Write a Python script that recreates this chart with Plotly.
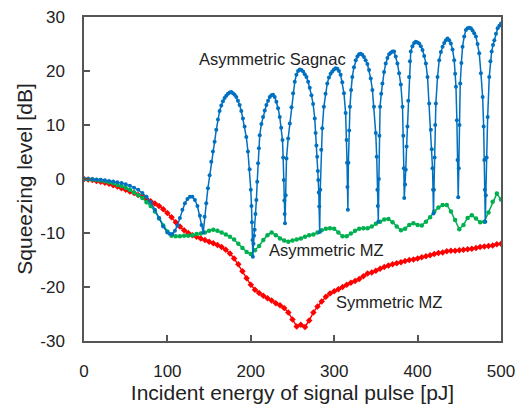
import plotly.graph_objects as go

# ---------------- data ----------------
energy_5 = list(range(0, 505, 5))  # pJ, sampling of the MZ curves

symmetric_mz = [
    0, -0.1, -0.2, -0.35, -0.5, -0.7, -0.9, -1.15, -1.4, -1.7,
    -2.0, -2.3, -2.6, -2.95, -3.3, -3.7, -4.1, -4.55, -5.0, -5.6,
    -6.3, -7.1, -8.0, -8.8, -9.5, -10.0, -10.4, -10.7, -11.0, -11.3,
    -11.6, -11.9, -12.2, -12.6, -13.1, -13.8, -14.7, -15.8, -17.1, -18.4,
    -19.6, -20.5, -21.1, -21.6, -22.1, -22.5, -23.0, -23.4, -23.9, -24.7,
    -26.0, -27.3, -27.0, -27.4, -26.2, -24.7, -23.6, -22.7, -21.8, -21.2,
    -20.8, -20.4, -20.0, -19.6, -19.2, -18.9, -18.5, -18.0, -17.5, -17.3,
    -17.0, -16.6, -16.3, -16.0, -15.8, -15.6, -15.4, -15.2, -15.0, -14.9,
    -14.7, -14.5, -14.3, -14.1, -13.9, -13.7, -13.6, -13.4, -13.3, -13.3,
    -13.2, -13.1, -13.0, -12.9, -12.8, -12.6, -12.5, -12.4, -12.3, -12.1,
    -12.0,
]

asymmetric_mz = [
    0, -0.05, -0.1, -0.2, -0.3, -0.4, -0.6, -0.8, -1.1, -1.3,
    -1.6, -2.0, -2.5, -3.0, -3.5, -4.3, -5.0, -6.0, -7.3, -8.6,
    -9.7, -10.5, -10.6, -10.6, -10.5, -10.5, -10.4, -10.2, -10.1, -9.9,
    -9.6, -9.4, -9.6, -9.9, -10.3, -10.7, -11.2, -12.0, -12.8, -13.5,
    -13.9, -13.2, -12.4, -11.3, -10.4, -9.9, -10.4, -11.0, -11.4, -11.6,
    -11.4, -11.2, -11.0, -10.7, -10.4, -10.3, -9.9, -9.5, -9.2, -9.1,
    -9.2, -9.9, -10.6, -10.6, -10.1, -9.6, -9.2, -9.1, -9.1, -8.8,
    -8.3, -7.9, -7.5, -7.4, -8.0, -8.8, -9.5, -9.2, -8.5, -8.2,
    -8.5, -8.6, -7.9, -7.1, -6.0, -5.3, -4.8, -4.8, -6.0, -7.6,
    -9.3, -8.5, -7.2, -6.7, -7.3, -8.0, -7.9, -6.2, -4.2, -2.7,
    -3.8,
]

sagnac_energy = [
    0, 5, 10, 15, 20, 25, 30, 35, 40, 45, 50, 55, 60, 65, 70, 75, 80, 85, 90, 95, 100,
    103, 106, 109, 112, 115, 118, 121, 124, 127, 130, 133, 136, 139, 141, 143,
    144.6, 146.6, 148.6, 150.6, 152.6, 154.6, 156.6, 158.6, 160.6, 162.6, 164.6, 166.6,
    168.6, 170.6, 172.6, 174.6, 176.6, 178.6, 180.6, 182.6, 184.6, 186.6, 188.6, 190.6,
    192.6, 194.6, 196.6, 198.6,
    200.0, 200.8, 201.4, 202.0, 202.5, 203.2, 203.9, 204.6, 205.6, 206.7, 207.7, 208.7,
    209.7, 210.7, 212.7, 214.7, 216.7, 218.7, 220.7, 222.7, 224.7, 226.7, 228.7, 230.7,
    232.7, 234.7, 236.4, 238.0, 238.8, 239.6, 240.2, 240.6, 241.0,
    241.8, 242.8, 244.8, 246.8, 248.8, 250.7, 252.7, 254.7, 256.7, 258.7, 260.7, 262.7,
    264.7, 266.7, 268.7, 270.7, 272.7, 274.7, 276.7, 277.7, 278.7, 279.6, 280.4, 280.9,
    281.5, 282.1, 282.6,
    283.3, 284.5, 285.7, 287.6, 289.6, 291.7, 293.7, 295.7, 297.7, 299.7, 301.7, 303.7,
    305.7, 307.7, 309.7, 311.7, 313.7, 314.9, 315.4, 315.9, 316.4,
    317.0, 318.0, 318.9, 320.3, 321.7, 323.7, 325.8, 327.8, 329.8, 331.7, 333.7, 335.7,
    337.7, 339.8, 341.8, 343.8, 345.8, 347.7, 349.8, 351.0, 351.8, 352.3, 352.9,
    353.6, 354.2, 355.0, 356.4, 357.8, 359.8, 361.8, 363.8, 365.8, 367.8, 369.8, 371.8,
    373.8, 375.8, 377.8, 379.9, 381.9, 382.9, 383.5, 384.0,
    385.0, 385.8, 386.8, 387.8, 388.8, 389.8, 390.8, 391.8, 393.8, 395.8, 397.8, 399.9,
    401.9, 403.9, 405.9, 407.9, 409.9, 411.9, 413.9, 415.9, 417.0, 417.9, 418.5, 419.0,
    419.6, 420.4, 421.1, 421.9, 423.9, 425.9, 427.9, 429.9, 431.9, 433.9, 435.9, 437.9,
    439.9, 441.9, 443.9, 445.0, 446.0, 447.1, 447.9, 448.7,
    449.4, 450.2, 451.1, 452.5, 453.9, 455.9, 457.9, 459.9, 461.9, 463.9, 465.9, 467.9,
    469.9, 471.9, 473.9, 475.9, 478.0, 479.2, 480.0, 480.6, 481.2,
    481.8, 482.8, 484.0, 485.9, 487.3, 488.8, 490.4, 492.0, 494.0, 496.0, 498.0, 500.0,
]

asymmetric_sagnac = [
    0, 0, -0.05, -0.1, -0.15, -0.25, -0.35, -0.45, -0.6, -0.75, -0.95, -1.25, -1.6, -2.0,
    -2.6, -3.3, -4.3, -5.7, -7.2, -8.8, -9.9,
    -10.2, -10.2, -9.6, -8.6, -7.2, -5.7, -4.5, -3.7, -3.3, -3.3, -3.9, -5.0, -6.8, -8.5, -9.9,
    -7.0, -4.5, -1.7, 0.7, 3.2, 5.1, 6.9, 9.1, 11.0, 12.6, 13.6, 14.4,
    15.0, 15.4, 15.8, 16.0, 16.1, 15.9, 15.6, 15.2, 14.5, 13.7, 12.6, 11.2,
    9.7, 7.8, 5.1, 1.8,
    -2.0, -5.0, -8.0, -11.3, -14.4, -12.0, -10.5, -9.4, -6.5, -3.9, -0.5, 2.9,
    5.7, 8.1, 10.2, 11.5, 12.7, 13.7, 14.5, 15.2, 15.5, 15.6, 15.2, 14.3,
    13.1, 11.5, 9.5, 7.2, 4.0, -0.2, -4.0, -6.5, -8.2,
    -3.0, 3.8, 7.5, 10.3, 13.3, 15.9, 18.0, 19.3, 20.0, 20.3, 20.2, 19.9,
    19.4, 18.9, 18.0, 16.9, 15.5, 13.9, 11.2, 8.5, 6.2, 4.1, 1.5, -0.2,
    -2.5, -5.1, -9.8,
    -2.0, 5.4, 9.4, 13.4, 15.8, 17.7, 18.8, 19.5, 19.9, 20.3, 20.5, 20.4,
    20.0, 19.3, 17.9, 15.9, 12.2, 7.2, 3.0, -1.5, -5.7,
    3.0, 9.0, 13.4, 16.5, 18.9, 20.7, 22.0, 22.7, 23.1, 23.2, 23.0, 22.6,
    22.0, 21.3, 20.2, 18.6, 16.5, 13.4, 8.5, 4.1, -2.0, -5.0, -7.9,
    0.0, 8.0, 13.4, 15.8, 17.7, 19.8, 21.4, 22.4, 23.1, 23.4, 23.6, 23.6,
    22.7, 21.4, 19.6, 17.5, 13.4, 8.0, 2.0, -3.5,
    -1.0, 1.7, 6.0, 9.7, 14.5, 18.9, 21.8, 23.6, 24.6, 25.2, 25.4, 25.3,
    25.1, 24.6, 23.9, 22.8, 21.4, 18.9, 14.0, 9.1, 5.5, 2.0, -2.0, -6.4,
    -2.0, 4.0, 10.0, 14.0, 18.9, 22.0, 23.5, 24.5, 25.2, 25.7, 26.0, 25.7,
    25.1, 24.0, 22.0, 19.5, 17.1, 10.9, 3.5, -3.4,
    2.0, 10.0, 17.7, 21.5, 24.5, 26.4, 27.6, 27.9, 28.0, 27.9, 27.5, 27.0,
    26.4, 25.0, 23.3, 19.6, 15.2, 9.7, 3.5, -2.0, -7.9,
    -3.0, 4.0, 11.5, 18.9, 21.8, 23.6, 24.8, 25.7, 26.9, 27.9, 28.4, 28.8,
]

x_ticks = [0, 100, 200, 300, 400, 500]
x_ticklabels = ["0", "100", "200", "300", "400", "500"]
y_ticks = [-30, -20, -10, 0, 10, 20, 30]
y_ticklabels = ["-30", "-20", "-10", "0", "10", "20", "30"]

labels = ["Asymmetric Sagnac", "Asymmetric MZ", "Symmetric MZ"]
label_x = [226, 291, 366]
label_y = [22.3, -13.1, -22.8]

assert len(sagnac_energy) == len(asymmetric_sagnac)
assert len(energy_5) == len(symmetric_mz) == len(asymmetric_mz)

# ---------------- figure ----------------
FONT = "Liberation Sans, Arial, sans-serif"
BLUE, GREEN, RED = "#0070C0", "#00B050", "#FF0000"

fig = go.Figure()
fig.add_trace(go.Scatter(
    x=energy_5, y=symmetric_mz, mode="lines+markers", name="Symmetric MZ",
    line=dict(color=RED, width=1.5), marker=dict(color=RED, size=5, symbol="diamond"),
))
fig.add_trace(go.Scatter(
    x=energy_5, y=asymmetric_mz, mode="lines+markers", name="Asymmetric MZ",
    line=dict(color=GREEN, width=1.5), marker=dict(color=GREEN, size=4.5),
))
fig.add_trace(go.Scatter(
    x=sagnac_energy, y=asymmetric_sagnac, mode="lines+markers", name="Asymmetric Sagnac",
    line=dict(color=BLUE, width=1.5), marker=dict(color=BLUE, size=4),
))

for t, xv, yv in zip(labels, label_x, label_y):
    fig.add_annotation(x=xv, y=yv, text=t, showarrow=False,
                       font=dict(family=FONT, size=16.5, color="#222222"),
                       xanchor="center", yanchor="middle")

axis_common = dict(
    showgrid=False, zeroline=False, showline=True, linecolor="#555555", linewidth=1.5,
    mirror=True, ticks="inside", ticklen=6, tickwidth=1.5, tickcolor="#555555",
    tickfont=dict(family=FONT, size=17, color="#222222"),
)

fig.update_xaxes(
    range=[0, 500], tickvals=x_ticks, ticktext=x_ticklabels,
    title=dict(text="Incident energy of signal pulse [pJ]",
               font=dict(family=FONT, size=21, color="#222222"), standoff=4),
    ticklabelstandoff=14, **axis_common,
)
fig.update_yaxes(
    range=[-30, 30], tickvals=y_ticks, ticktext=y_ticklabels,
    title=dict(text="Squeezing level [dB]",
               font=dict(family=FONT, size=21, color="#222222"), standoff=2),
    ticklabelstandoff=14, **axis_common,
)

fig.update_layout(
    width=524, height=408,
    margin=dict(l=84, r=23, t=17, b=67, autoexpand=False),
    paper_bgcolor="white", plot_bgcolor="white",
    showlegend=False,
    font=dict(family=FONT),
)

fig.write_html("out.html")
